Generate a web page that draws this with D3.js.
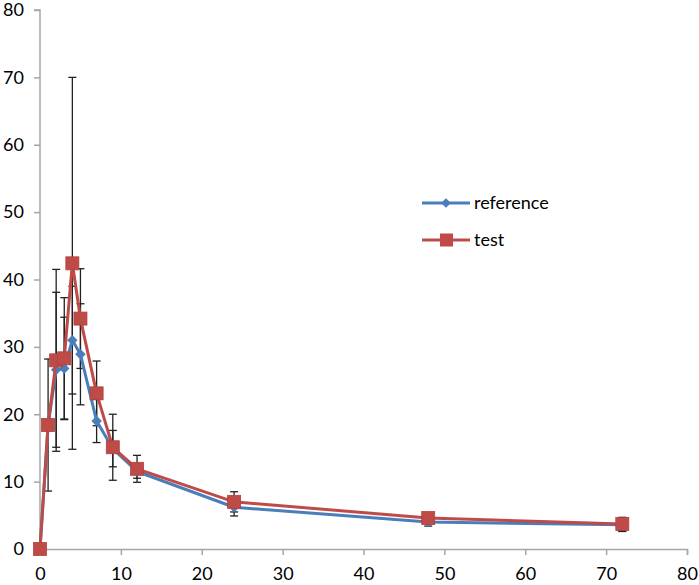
<!DOCTYPE html>
<html><head><meta charset="utf-8">
<script src="https://cdn.jsdelivr.net/npm/d3@7"></script>
<style>body{margin:0;background:#fff}svg{display:block}text{font-family:Lato,"Open Sans",sans-serif}</style>
</head><body>
<script>
const time = [0,1,2,3,4,5,7,9,12,24,48,72];
const refMean = [0,18.4,26.6,26.8,31.0,28.9,19.0,14.9,11.5,6.2,4.0,3.6];
const refSD = [0,0,11.5,7.6,8.0,7.5,3.2,2.7,1.0,1.3,0.6,1.0];
const testMean = [0,18.4,28.0,28.3,42.4,34.2,23.1,15.1,11.9,7.0,4.6,3.7];
const testSD = [0,9.8,13.5,9.0,27.6,7.4,4.8,4.9,2.0,1.5,0.3,1.0];
const xTicks = [0,10,20,30,40,50,60,70,80];
const yTicks = [0,10,20,30,40,50,60,70,80];
const seriesNames = ["reference","test"];

const W=699,H=585;
const svg=d3.select("body").append("svg").attr("width",W).attr("height",H);
const x=d3.scaleLinear().domain([0,80]).range([40,687]);
const y=d3.scaleLinear().domain([0,80]).range([549,10]);

const axisColor="#a6a6a6";
const gx=svg.append("g").attr("transform",`translate(0,${y(0)})`)
  .call(d3.axisBottom(x).tickValues(xTicks).tickSize(6).tickPadding(12));
const gy=svg.append("g").attr("transform",`translate(${x(0)},0)`)
  .call(d3.axisLeft(y).tickValues(yTicks).tickSize(6).tickPadding(10));
[gx,gy].forEach(g=>{
  g.selectAll("path").attr("stroke",axisColor).attr("stroke-width",1.5);
  g.selectAll("line").attr("stroke",axisColor).attr("stroke-width",1.5);
  g.selectAll("text").attr("font-size",18).attr("fill","#000").attr("font-family","Lato, sans-serif");
});
gy.select(".domain").attr("d",`M-6,${y(80)}H0V${y(0)}`);

const series=[
  {name:seriesNames[0],mean:refMean,sd:refSD,color:"#4a7ebb"},
  {name:seriesNames[1],mean:testMean,sd:testSD,color:"#be4b48"}
];

// error bars
series.forEach(s=>{
  const g=svg.append("g").attr("stroke","#222").attr("stroke-width",1.3);
  time.forEach((t,i)=>{
    if(!s.sd[i]) return;
    const cx=x(t),y1=y(s.mean[i]-s.sd[i]),y2=y(s.mean[i]+s.sd[i]);
    g.append("line").attr("x1",cx).attr("x2",cx).attr("y1",y1).attr("y2",y2);
    g.append("line").attr("x1",cx-4).attr("x2",cx+4).attr("y1",y1).attr("y2",y1);
    g.append("line").attr("x1",cx-4).attr("x2",cx+4).attr("y1",y2).attr("y2",y2);
  });
});

const line=d3.line().x((d,i)=>x(time[i])).y(d=>y(d));
series.forEach((s,k)=>{
  svg.append("path").datum(s.mean).attr("d",line).attr("fill","none")
    .attr("stroke",s.color).attr("stroke-width",3).attr("stroke-linejoin","round");
  const g=svg.append("g");
  s.mean.forEach((v,i)=>{
    if(k===0){
      g.append("path").attr("d",d3.symbol(d3.symbolDiamond2,70)())
        .attr("transform",`translate(${x(time[i])},${y(v)})`).attr("fill",s.color);
    } else {
      g.append("rect").attr("x",x(time[i])-6.5).attr("y",y(v)-6.5).attr("width",13).attr("height",13)
        .attr("fill",s.color).attr("stroke","#b0403d").attr("stroke-width",0.8);
    }
  });
});

// legend
const leg=svg.append("g");
series.forEach((s,k)=>{
  const ly=203+k*37;
  leg.append("line").attr("x1",422).attr("x2",470).attr("y1",ly).attr("y2",ly)
    .attr("stroke",s.color).attr("stroke-width",3);
  if(k===0){
    leg.append("path").attr("d",d3.symbol(d3.symbolDiamond2,60)())
      .attr("transform",`translate(446,${ly})`).attr("fill",s.color);
  } else {
    leg.append("rect").attr("x",440).attr("y",ly-6.5).attr("width",13).attr("height",13).attr("fill",s.color);
  }
  leg.append("text").attr("x",474).attr("y",ly).attr("dy","0.35em").attr("font-size",18).text(s.name);
});
</script>
</body></html>
